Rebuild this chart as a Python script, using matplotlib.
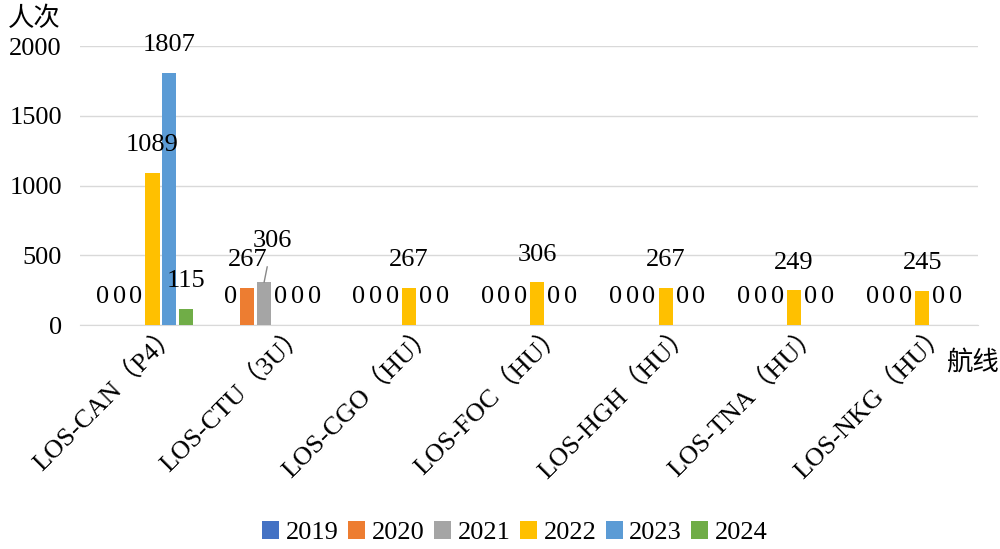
import matplotlib.pyplot as plt
import matplotlib.transforms as mtransforms
import numpy as np

routes = ["LOS-CAN（P4）", "LOS-CTU（3U）", "LOS-CGO（HU）", "LOS-FOC（HU）",
          "LOS-HGH（HU）", "LOS-TNA（HU）", "LOS-NKG（HU）"]
years = ["2019", "2020", "2021", "2022", "2023", "2024"]
v2019 = [0, 0, 0, 0, 0, 0, 0]
v2020 = [0, 267, 0, 0, 0, 0, 0]
v2021 = [0, 306, 0, 0, 0, 0, 0]
v2022 = [1089, 0, 267, 306, 267, 249, 245]
v2023 = [1807, 0, 0, 0, 0, 0, 0]
v2024 = [115, 0, 0, 0, 0, 0, 0]
colors = ["#4472C4", "#ED7D31", "#A5A5A5", "#FFC000", "#5B9BD5", "#70AD47"]

fonts = ["Liberation Serif", "Noto Sans CJK SC"]
plt.rcParams["font.family"] = fonts
fs = 19

fig = plt.figure(figsize=(10, 5.49), dpi=100)
ax = fig.add_axes([0.08, 0.408, 0.898, 0.508])

series = [v2019, v2020, v2021, v2022, v2023, v2024]
x = np.arange(len(routes))
step = 0.13
width = 0.11
for k, (yr, vals, c) in enumerate(zip(years, series, colors)):
    pos = x + (k - 2.5) * step
    ax.bar(pos, vals, width, color=c, label=yr, zorder=3)
    for i, (px, v) in enumerate(zip(pos, vals)):
        if i == 1 and k == 2:
            # 306 label pushed up with a leader line
            ax.annotate(str(v), (px, v), xytext=(6, 30), textcoords="offset points",
                        ha="center", va="center", fontsize=fs, zorder=5,
                        arrowprops=dict(arrowstyle="-", color="#888888", lw=1,
                                        shrinkA=9, shrinkB=0))
            continue
        ax.annotate(str(v), (px, v), xytext=(0, 20), textcoords="offset points",
                    ha="center", va="center", fontsize=fs, zorder=5)

ax.set_xlim(-0.5, len(routes) - 0.5)
ax.set_ylim(0, 2000)
ax.set_yticks([0, 500, 1000, 1500, 2000])
ax.grid(axis="y", color="#D9D9D9", lw=1, zorder=0)
for s in ["top", "right", "left"]:
    ax.spines[s].set_visible(False)
ax.spines["bottom"].set_color("#D9D9D9")
ax.tick_params(axis="both", length=0, labelsize=fs)
ax.tick_params(axis="y", pad=13)
ax.set_xticks(x)
ax.set_xticklabels(routes, rotation=45, ha="right", rotation_mode="anchor", fontsize=fs)
shift = mtransforms.ScaledTranslation(0.22, 0.1, fig.dpi_scale_trans)
for lab in ax.get_xticklabels():
    lab.set_transform(lab.get_transform() + shift)

fig.text(0.008, 0.965, "人次", fontsize=fs, ha="left", va="center")
fig.text(0.946, 0.34, "航线", fontsize=fs, ha="left", va="center")

fig.legend(loc="center", bbox_to_anchor=(0.515, 0.03), ncol=6, frameon=False,
           fontsize=fs, handlelength=0.65, handleheight=0.65, handletextpad=0.25,
           columnspacing=0.35)

fig.savefig("out.png", dpi=100)
